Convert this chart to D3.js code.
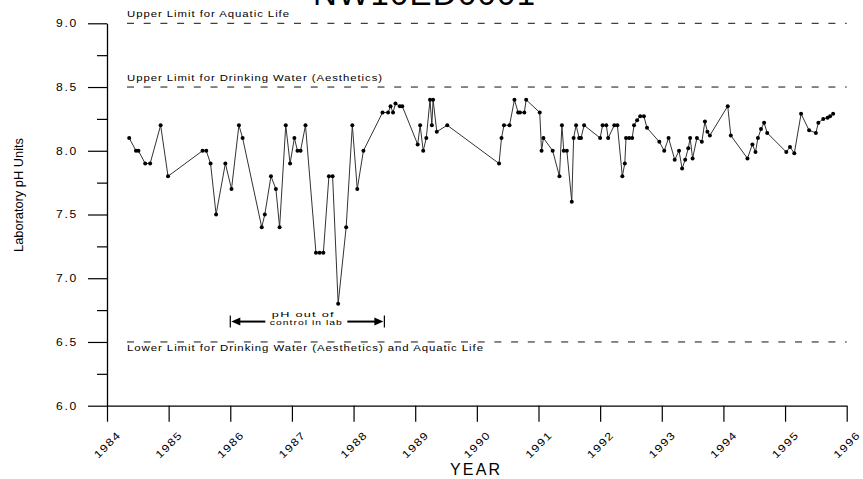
<!DOCTYPE html>
<html>
<head>
<meta charset="utf-8">
<script src="https://cdn.jsdelivr.net/npm/d3@7"></script>
<style>
  html, body { margin: 0; padding: 0; background: #fff; }
  svg { display: block; font-family: "Liberation Sans", Arial, sans-serif; }
</style>
</head>
<body>
<div id="chart"></div>
<script>
// sample dates (decimal years) and lab pH readings
const sampleYears = [
  1984.36, 1984.47, 1984.51, 1984.62, 1984.70, 1984.87, 1984.99,
  1985.55, 1985.61, 1985.68, 1985.77, 1985.92, 1986.02, 1986.14, 1986.20,
  1986.51, 1986.56, 1986.66, 1986.74, 1986.80, 1986.90, 1986.97,
  1987.04, 1987.09, 1987.14, 1987.22, 1987.39, 1987.45, 1987.51, 1987.60,
  1987.66, 1987.75, 1987.88, 1987.98, 1988.06, 1988.16,
  1988.47, 1988.56, 1988.60, 1988.64, 1988.68, 1988.75, 1988.79,
  1989.04, 1989.08, 1989.13, 1989.18, 1989.24, 1989.27, 1989.29, 1989.35, 1989.52,
  1990.36, 1990.40, 1990.44, 1990.53, 1990.61, 1990.67, 1990.70, 1990.77, 1990.80,
  1991.02, 1991.05, 1991.08, 1991.23, 1991.34, 1991.38, 1991.41, 1991.46,
  1991.54, 1991.57, 1991.61, 1991.66, 1991.69, 1991.74,
  1992.00, 1992.04, 1992.10, 1992.13, 1992.23, 1992.28, 1992.36, 1992.40,
  1992.42, 1992.47, 1992.52, 1992.55, 1992.60, 1992.65, 1992.71, 1992.76, 1992.96,
  1993.04, 1993.11, 1993.21, 1993.28, 1993.33, 1993.38, 1993.43, 1993.46,
  1993.50, 1993.57, 1993.65, 1993.70, 1993.74, 1993.78,
  1994.07, 1994.12, 1994.39, 1994.47, 1994.52, 1994.56, 1994.61, 1994.66, 1994.71,
  1995.02, 1995.08, 1995.15, 1995.26, 1995.39, 1995.50, 1995.54, 1995.62,
  1995.69, 1995.73, 1995.78
];
const phValues = [
  8.1, 8.0, 8.0, 7.9, 7.9, 8.2, 7.8,
  8.0, 8.0, 7.9, 7.5, 7.9, 7.7, 8.2, 8.1,
  7.4, 7.5, 7.8, 7.7, 7.4, 8.2, 7.9,
  8.1, 8.0, 8.0, 8.2, 7.2, 7.2, 7.2, 7.8,
  7.8, 6.8, 7.4, 8.2, 7.7, 8.0,
  8.3, 8.3, 8.35, 8.3, 8.37, 8.35, 8.35,
  8.05, 8.2, 8.0, 8.1, 8.4, 8.2, 8.4, 8.15, 8.2,
  7.9, 8.1, 8.2, 8.2, 8.4, 8.3, 8.3, 8.3, 8.4,
  8.3, 8.0, 8.1, 8.0, 7.8, 8.2, 8.0, 8.0,
  7.6, 8.1, 8.2, 8.1, 8.1, 8.2,
  8.1, 8.2, 8.2, 8.1, 8.2, 8.2, 7.8, 7.9,
  8.1, 8.1, 8.1, 8.2, 8.24, 8.27, 8.27, 8.18, 8.07,
  8.0, 8.1, 7.93, 8.0, 7.86, 7.93, 8.02, 8.1,
  7.94, 8.1, 8.07, 8.23, 8.15, 8.12,
  8.35, 8.12, 7.94, 8.05, 7.99, 8.1, 8.17, 8.22, 8.14,
  7.99, 8.03, 7.98, 8.29, 8.16, 8.14, 8.22, 8.25,
  8.26, 8.27, 8.29
];

// guideline values and their captions
const limitValues = [9.0, 8.5, 6.5];
const limitLabels = [
  'Upper Limit for Aquatic Life',
  'Upper Limit for Drinking Water (Aesthetics)',
  'Lower Limit for Drinking Water (Aesthetics) and Aquatic Life'
];

// annotated period when lab pH was out of control
const outOfControl = [1986.0, 1988.5];
const outOfControlPh = 6.66;
const outOfControlText = ['pH out of', 'control in lab'];

// axis ticks
const yearTicks = d3.range(1984, 1997);
const phMajorTicks = [6.0, 6.5, 7.0, 7.5, 8.0, 8.5, 9.0];
const phMinorTicks = [6.25, 6.75, 7.25, 7.75, 8.25, 8.75];

const titleText = 'NW10ED0001';

const totalWidth = 863;
const totalHeight = 479;
const margin = { top: 23.3, right: 16.3, bottom: 73.3, left: 107 };
const width = totalWidth - margin.left - margin.right;
const height = totalHeight - margin.top - margin.bottom;

const svg = d3.select('#chart')
  .append('svg')
  .attr('width', totalWidth)
  .attr('height', totalHeight);

const g = svg.append('g')
  .attr('transform', `translate(${margin.left},${margin.top})`);

// Scales
const x = d3.scaleLinear().domain([1984, 1996]).range([0, width]);
const y = d3.scaleLinear().domain([6, 9]).range([height, 0]);

// Title (mostly cut off at the top edge, as in the source)
svg.append('text')
  .attr('x', 424)
  .attr('y', 5)
  .attr('text-anchor', 'middle')
  .attr('textLength', 222)
  .style('font-size', '33px')
  .style('fill', '#000')
  .text(titleText);

// Limit lines
const limits = limitValues.map((v, i) => ({ value: v, label: limitLabels[i] }));

g.selectAll('.limit')
  .data(limits)
  .enter().append('line')
  .attr('class', 'limit')
  .attr('x1', 20)
  .attr('x2', width)
  .attr('y1', d => y(d.value))
  .attr('y2', d => y(d.value))
  .style('stroke', '#111')
  .style('stroke-width', 1)
  .style('stroke-dasharray', '7,9.7');

const labelWidths = [163, 256, 357];
g.selectAll('.limit-label')
  .data(limits)
  .enter().append('text')
  .attr('class', 'limit-label')
  .attr('x', 20)
  .attr('y', (d, i) => i === 2 ? y(d.value) + 9.5 : y(d.value) - 6)
  .attr('textLength', (d, i) => labelWidths[i])
  .attr('lengthAdjust', 'spacingAndGlyphs')
  .style('font-size', '9.5px')
  .style('letter-spacing', '0.8px')
  .style('fill', '#000')
  .text(d => d.label);

// Y axis: major and minor ticks
const yMinor = g.append('g')
  .call(d3.axisLeft(y).tickValues(phMinorTicks).tickSize(10).tickSizeOuter(0).tickFormat(''));
yMinor.select('.domain').remove();
yMinor.selectAll('line').style('stroke', '#000').style('stroke-width', 1.2);

const yAxis = g.append('g')
  .call(d3.axisLeft(y).tickValues(phMajorTicks).tickSize(19).tickSizeOuter(0)
    .tickPadding(10).tickFormat(d3.format('.1f')));

yAxis.select('.domain').style('stroke', '#000').style('stroke-width', 1.3);
yAxis.selectAll('line').style('stroke', '#000').style('stroke-width', 1.2);
yAxis.selectAll('text')
  .attr('textLength', 22)
  .attr('lengthAdjust', 'spacingAndGlyphs')
  .style('font-size', '10.5px')
  .style('letter-spacing', '1.5px')
  .style('font-family', '"Liberation Sans", Arial, sans-serif')
  .style('fill', '#000');

// X axis
const xAxis = g.append('g')
  .attr('transform', `translate(0,${height})`)
  .call(d3.axisBottom(x).tickValues(yearTicks).tickSize(16).tickSizeOuter(0)
    .tickFormat(d3.format('d')));

xAxis.select('.domain').style('stroke', '#000').style('stroke-width', 1.3);
xAxis.selectAll('line').style('stroke', '#000').style('stroke-width', 1.2);
xAxis.selectAll('text')
  .attr('x', 0)
  .attr('y', 0)
  .attr('dy', 0)
  .attr('transform', 'translate(14,30) rotate(-45)')
  .attr('text-anchor', 'end')
  .attr('textLength', 33)
  .attr('lengthAdjust', 'spacingAndGlyphs')
  .style('font-size', '10.5px')
  .style('letter-spacing', '1px')
  .style('font-family', '"Liberation Sans", Arial, sans-serif')
  .style('fill', '#000');

// Axis labels
svg.append('text')
  .attr('x', 475)
  .attr('y', 475)
  .attr('text-anchor', 'middle')
  .attr('textLength', 50)
  .style('font-size', '16px')
  .style('fill', '#000')
  .text('YEAR');

svg.append('text')
  .attr('transform', 'translate(23,195) rotate(-90)')
  .attr('text-anchor', 'middle')
  .attr('textLength', 114)
  .attr('lengthAdjust', 'spacingAndGlyphs')
  .style('font-size', '13px')
  .style('fill', '#000')
  .text('Laboratory pH Units');

// Data line and points
const data = sampleYears.map((yr, i) => ({ year: yr, ph: phValues[i] }));

const line = d3.line()
  .x(d => x(d.year))
  .y(d => y(d.ph));

g.append('path')
  .datum(data)
  .attr('d', line)
  .style('fill', 'none')
  .style('stroke', '#333')
  .style('stroke-width', 1);

g.selectAll('.pt')
  .data(data)
  .enter().append('circle')
  .attr('class', 'pt')
  .attr('cx', d => x(d.year))
  .attr('cy', d => y(d.ph))
  .attr('r', 2)
  .style('fill', '#000');

// Out-of-control annotation
const ax0 = x(outOfControl[0]);
const ax1 = x(outOfControl[1]);
const ay = y(outOfControlPh);
const amid = (ax0 + ax1) / 2;
const ann = g.append('g');

[ax0, ax1].forEach(px => {
  ann.append('line')
    .attr('x1', px).attr('x2', px)
    .attr('y1', ay - 6).attr('y2', ay + 6)
    .style('stroke', '#000').style('stroke-width', 1.2);
});

ann.append('line')
  .attr('x1', ax0 + 6).attr('x2', amid - 42)
  .attr('y1', ay).attr('y2', ay)
  .style('stroke', '#000').style('stroke-width', 2);
ann.append('line')
  .attr('x1', amid + 40).attr('x2', ax1 - 6)
  .attr('y1', ay).attr('y2', ay)
  .style('stroke', '#000').style('stroke-width', 2);

ann.append('path')
  .attr('d', `M${ax0 + 1},${ay} L${ax0 + 10},${ay - 4} L${ax0 + 10},${ay + 4} Z`)
  .style('fill', '#000');
ann.append('path')
  .attr('d', `M${ax1 - 1},${ay} L${ax1 - 10},${ay - 4} L${ax1 - 10},${ay + 4} Z`)
  .style('fill', '#000');

ann.selectAll('.ann-text')
  .data(outOfControlText)
  .enter().append('text')
  .attr('class', 'ann-text')
  .attr('x', (d, i) => i === 0 ? amid - 4 : amid - 1)
  .attr('y', (d, i) => ay - 5 + i * 8.2)
  .attr('text-anchor', 'middle')
  .attr('textLength', (d, i) => i === 0 ? 63 : 73)
  .attr('lengthAdjust', 'spacingAndGlyphs')
  .style('font-size', '8px')
  .style('letter-spacing', '0.8px')
  .style('fill', '#000')
  .text(d => d);
</script>
</body>
</html>
